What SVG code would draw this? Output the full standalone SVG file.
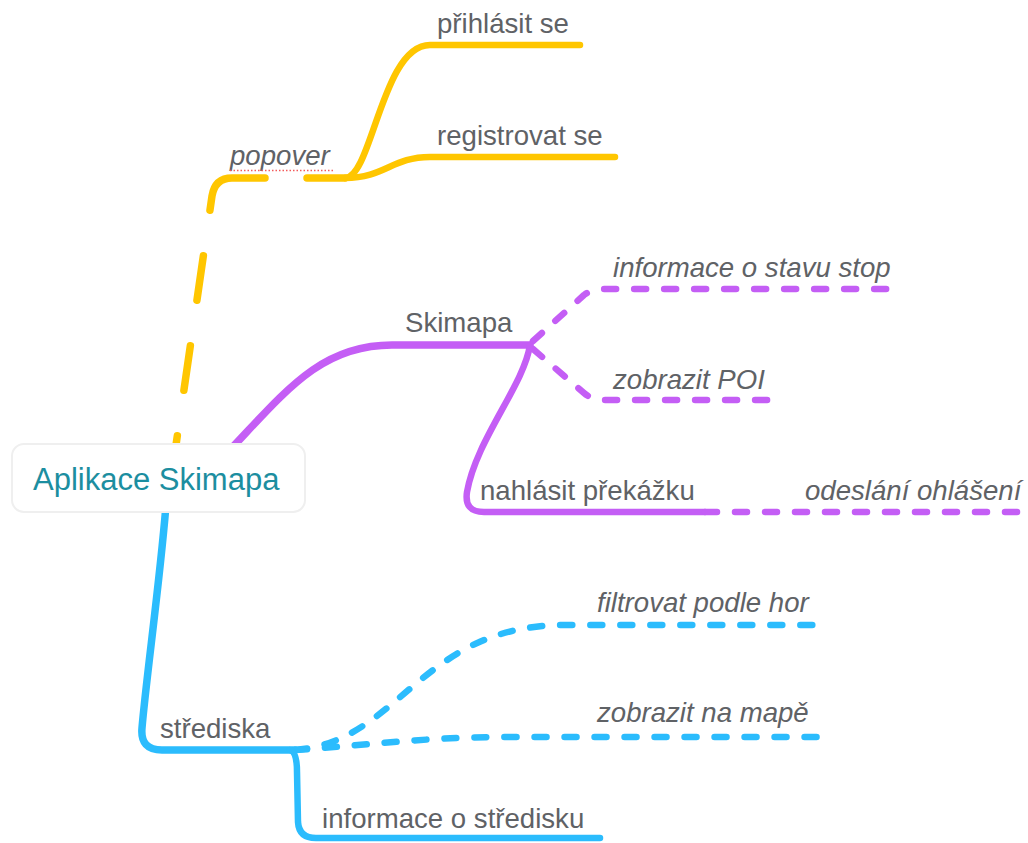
<svg xmlns="http://www.w3.org/2000/svg" width="1028" height="843" viewBox="0 0 1028 843">
  <style>
    .lbl { font-family: "Liberation Sans", Arial, sans-serif; font-size: 27.6px; fill: #5f6266; }
    .it { font-style: italic; }
    .root { font-family: "Liberation Sans", Arial, sans-serif; font-size: 31px; fill: #1c8ea0; }
    .br { fill: none; stroke-linecap: round; stroke-linejoin: round; }
    .y { stroke: #ffc600; }
    .p { stroke: #c45ef5; }
    .b { stroke: #2bbcfd; }
    .dash { stroke-dasharray: 12 18; }
  </style>
  <rect width="1028" height="843" fill="#ffffff"/>

  <!-- connectors -->
  <g id="connectors">
    <!-- popover branch (dashed, yellow) -->
    <path class="br y" stroke-width="7.5" stroke-dasharray="38 42 77 46 45 46 45 46 80" d="M345,178 L232,178 Q215,178 212,196 L176,445"/>
    <path class="br y" stroke-width="6.5" d="M345,178 C372,178 382,45 430,45 L580,45"/>
    <path class="br y" stroke-width="6.5" d="M345,178 C385,178 392,157 430,157 L615,157"/>
    <!-- Skimapa branch (purple) -->
    <path class="br p" stroke-width="7.5" d="M228,452 C285,392 320,345 392,345 L530,345"/>
    <path class="br p dash" stroke-width="6.5" d="M533,341 L584,295 Q592,289 604,289 L898,289"/>
    <path class="br p dash" stroke-width="6.5" d="M533,349 L584,393 Q592,400 604,400 L775,400"/>
    <path class="br p" stroke-width="6.5" d="M530,345 C524,385 476,440 467,492 Q464,512 484,512 L705,512"/>
    <path class="br p dash" stroke-width="6.5" d="M705,512 L1028,512"/>
    <!-- střediska branch (blue) -->
    <path class="br b" stroke-width="7.5" d="M166,505 C160,580 146,680 142,728 Q140,750 162,750 L295,750"/>
    <path class="br b dash" stroke-width="6.5" d="M295,750 C400,742 420,625 565,625 L820,625"/>
    <path class="br b dash" stroke-width="6.5" d="M295,750 C360,746 420,737 510,737 L820,737"/>
    <path class="br b" stroke-width="6.5" d="M290,750 Q297,752 297,772 L298,822 Q299,838 316,838 L600,838"/>
  </g>

  <!-- root topic -->
  <g id="root">
    <rect x="12" y="444" width="293" height="68" rx="12" ry="12" fill="#ffffff" stroke="#efefef" stroke-width="2"/>
    <text class="root" x="33" y="490">Aplikace Skimapa</text>
  </g>

  <g id="popover">
    <text class="lbl it" x="230" y="165">popover</text>
    <line x1="230" y1="170.5" x2="335" y2="170.5" stroke="#f35a5a" stroke-width="1.5" stroke-dasharray="1.5 2"/>
  </g>
  <g id="prihlasit"><text class="lbl" x="437" y="33">přihlásit se</text></g>
  <g id="registrovat"><text class="lbl" x="437" y="145">registrovat se</text></g>

  <g id="skimapa"><text class="lbl" x="405" y="332">Skimapa</text></g>
  <g id="stav-stop"><text class="lbl it" x="613" y="277">informace o stavu stop</text></g>
  <g id="poi"><text class="lbl it" x="613" y="389">zobrazit POI</text></g>
  <g id="nahlasit"><text class="lbl" x="480" y="500">nahlásit překážku</text></g>
  <g id="odeslani"><text class="lbl it" x="805" y="500">odeslání ohlášení</text></g>

  <g id="strediska"><text class="lbl" x="160" y="738">střediska</text></g>
  <g id="filtrovat"><text class="lbl it" x="597" y="612">filtrovat podle hor</text></g>
  <g id="mapa"><text class="lbl it" x="597" y="722">zobrazit na mapě</text></g>
  <g id="info-stredisko"><text class="lbl" x="322" y="828">informace o středisku</text></g>
</svg>
